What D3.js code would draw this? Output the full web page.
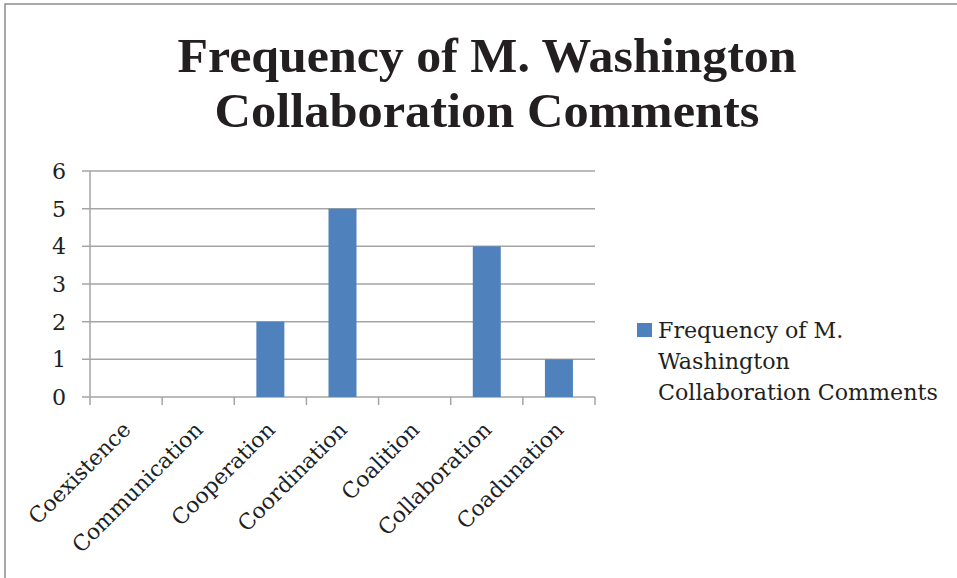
<!DOCTYPE html>
<html lang="en">
<head>
    <meta charset="UTF-8">
    <title>Frequency of M. Washington Collaboration Comments</title>
    <script src="https://d3js.org/d3.v7.min.js"></script>
    <style>
        body { margin: 0; overflow: hidden; background: #fff; }
        svg { display: block; }
        text { fill: #231f20; }
        .body-text { font-family: "DejaVu Serif", serif; }
        .title { font-family: "Liberation Serif", serif; font-weight: bold; }
    </style>
</head>
<body>
    <svg width="957" height="578"></svg>
    <script>
        const categories = ["Coexistence", "Communication", "Cooperation", "Coordination", "Coalition", "Collaboration", "Coadunation"];
        const values = [0, 0, 2, 5, 0, 4, 1];
        const yTicks = [0, 1, 2, 3, 4, 5, 6];
        const titleLines = ["Frequency of M. Washington", "Collaboration Comments"];
        const legendLines = ["Frequency of M.", "Washington", "Collaboration Comments"];

        const svg = d3.select("svg");

        // work out a font size that gives the legend its width in the picture
        const probe = svg.append("text").attr("class", "body-text").attr("font-size", 20).text(legendLines[2]);
        const fs = 20 * 280 / probe.node().getComputedTextLength();
        probe.remove();

        // outer frame (only left and top edges show)
        svg.append("path")
            .attr("d", "M5,578V4H957")
            .attr("fill", "none")
            .attr("stroke", "#8c8c8c")
            .attr("stroke-width", 1.5);

        const x = d3.scaleBand()
            .domain(categories)
            .range([90, 595])
            .paddingInner(0.612)
            .paddingOuter(0.306);

        const y = d3.scaleLinear()
            .domain([0, 6])
            .range([397, 171]);

        // gridlines + left ticks
        svg.selectAll(".grid")
            .data(yTicks)
            .enter().append("line")
            .attr("x1", 82)
            .attr("x2", 595)
            .attr("y1", d => y(d))
            .attr("y2", d => y(d))
            .attr("stroke", "#a5a5a5")
            .attr("stroke-width", 1.5);

        // y axis line
        svg.append("line")
            .attr("x1", 90).attr("x2", 90)
            .attr("y1", y(6)).attr("y2", y(0))
            .attr("stroke", "#a5a5a5")
            .attr("stroke-width", 1.5);

        // bars
        svg.selectAll(".bar")
            .data(values)
            .enter().append("rect")
            .attr("x", (d, i) => x(categories[i]))
            .attr("y", d => y(d))
            .attr("width", x.bandwidth())
            .attr("height", d => y(0) - y(d))
            .attr("fill", "#4f81bd");

        // category boundary ticks
        const step = x.step();
        const x0 = x.range()[0];
        svg.selectAll(".xtick")
            .data(d3.range(categories.length + 1))
            .enter().append("line")
            .attr("x1", i => x0 + i * step)
            .attr("x2", i => x0 + i * step)
            .attr("y1", y(0))
            .attr("y2", y(0) + 8)
            .attr("stroke", "#a5a5a5")
            .attr("stroke-width", 1.5);

        // y labels
        svg.selectAll(".ylabel")
            .data(yTicks)
            .enter().append("text")
            .attr("class", "body-text")
            .attr("x", 66)
            .attr("y", d => y(d) + 8)
            .attr("text-anchor", "end")
            .attr("font-size", fs)
            .text(d => d);

        // x labels, rotated
        svg.selectAll(".xlabel")
            .data(categories)
            .enter().append("text")
            .attr("class", "body-text")
            .attr("text-anchor", "end")
            .attr("font-size", fs * 0.98)
            .attr("transform", d => `translate(${x(d) + x.bandwidth() / 2 + 6},${y(0) + 34}) rotate(-45)`)
            .text(d => d);

        // title
        svg.selectAll(".title")
            .data(titleLines)
            .enter().append("text")
            .attr("class", "title")
            .attr("x", 487)
            .attr("y", (d, i) => 72 + i * 55)
            .attr("text-anchor", "middle")
            .attr("font-size", 48)
            .attr("textLength", (d, i) => i === 0 ? 619 : 545)
            .attr("lengthAdjust", "spacingAndGlyphs")
            .text(d => d);

        // legend
        svg.append("rect")
            .attr("x", 637)
            .attr("y", 323)
            .attr("width", 15)
            .attr("height", 14)
            .attr("fill", "#4f81bd");

        svg.selectAll(".legend")
            .data(legendLines)
            .enter().append("text")
            .attr("class", "body-text")
            .attr("x", 658)
            .attr("y", (d, i) => 338 + i * 31)
            .attr("font-size", fs)
            .text(d => d);
    </script>
</body>
</html>
